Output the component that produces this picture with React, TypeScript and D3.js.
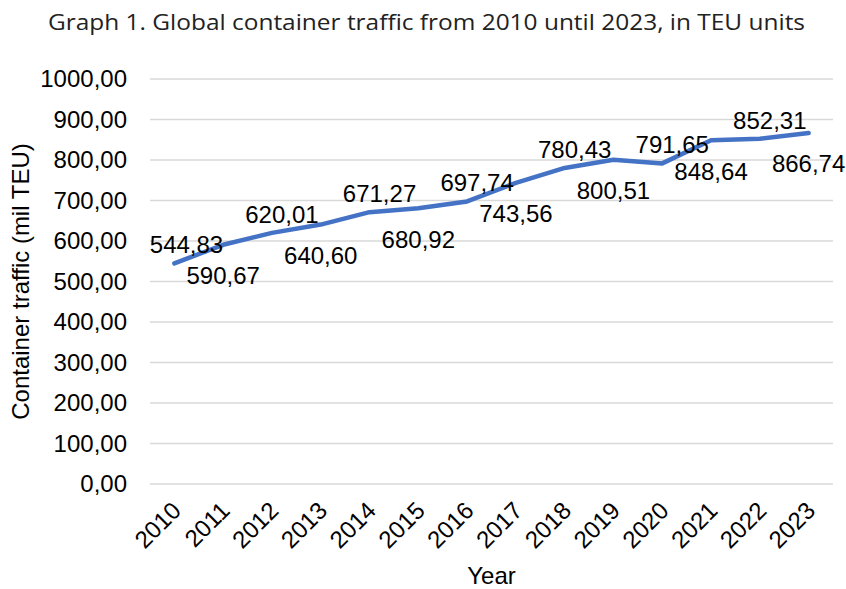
import React from "react";
import * as d3 from "d3";

const years = ["2010","2011","2012","2013","2014","2015","2016","2017","2018","2019","2020","2021","2022","2023"];
const traffic = [544.83,590.67,620.01,640.60,671.27,680.92,697.74,743.56,780.43,800.51,791.65,848.64,852.31,866.74];
const labelSide = ["above","below","above","below","above","below","above","below","above","below","above","below","above","below"];
const yTicks = [0,100,200,300,400,500,600,700,800,900,1000];

const W = 846, H = 589;
const M = { left: 150, right: 833, top: 79, bottom: 484 };
const FONT = "'Liberation Sans', Arial, sans-serif";
const fmt = (v: number) => v.toFixed(2).replace(".", ",");

export default function App() {
  const x = d3.scaleBand<string>().domain(years).range([M.left, M.right]);
  const y = d3.scaleLinear().domain([0, 1000]).range([M.bottom, M.top]);
  const cx = (yr: string) => (x(yr) as number) + x.bandwidth() / 2;
  const line = d3.line<number>().x((_, i) => cx(years[i])).y((d) => y(d));
  const labW = 73;

  return (
    <svg width={W} height={H} style={{ position: "absolute", left: 0, top: 0, background: "#fff" }}>
      <text x={48} y={30} textLength={757} lengthAdjust="spacingAndGlyphs" fontFamily="'Open Sans', Lato, sans-serif" fontSize={22} fill="#222">
        Graph 1. Global container traffic from 2010 until 2023, in TEU units
      </text>
      {yTicks.map((t) => (
        <g key={t}>
          <line x1={M.left} x2={M.right} y1={y(t)} y2={y(t)} stroke="#d9d9d9" strokeWidth={1.3} />
          <text x={127} y={y(t)} dy="0.35em" textAnchor="end" fontFamily={FONT} fontSize={24} fill="#000">
            {fmt(t)}
          </text>
        </g>
      ))}
      {years.map((yr) => (
        <text key={yr} transform={`translate(${cx(yr) + 8},${512}) rotate(-45)`} textAnchor="end"
          fontFamily={FONT} fontSize={24} fill="#000">{yr}</text>
      ))}
      <path d={line(traffic) as string} fill="none" stroke="#4472c4" strokeWidth={4.5} strokeLinejoin="round" strokeLinecap="round" />
      {traffic.map((v, i) => {
        const px = cx(years[i]);
        const py = y(v);
        const above = labelSide[i] === "above";
        let lx = above ? px + 10 : px;
        lx = Math.max(M.left + labW / 2, Math.min(lx, W - labW / 2));
        const ly = above ? py - 10 : py + 39.5;
        return (
          <text key={i} x={lx} y={ly} textAnchor="middle" fontFamily={FONT} fontSize={24} fill="#000">{fmt(v)}</text>
        );
      })}
      <text transform={`translate(29,${(M.top + M.bottom) / 2}) rotate(-90)`} textAnchor="middle" fontFamily={FONT} fontSize={24} fill="#000">
        Container traffic (mil TEU)
      </text>
      <text x={(M.left + M.right) / 2} y={584} textAnchor="middle" fontFamily={FONT} fontSize={24} fill="#000">Year</text>
    </svg>
  );
}
